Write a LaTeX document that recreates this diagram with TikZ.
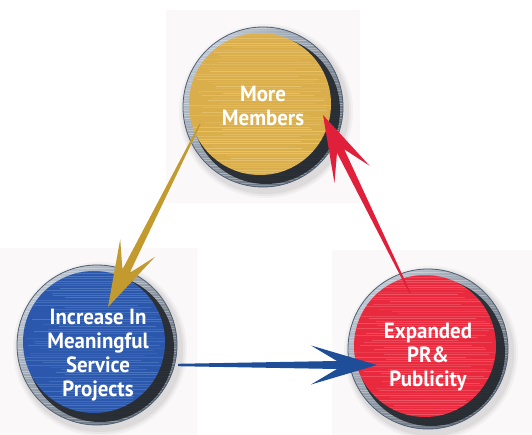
\documentclass[tikz,border=0pt]{standalone}
\usepackage{fontspec}
\setmainfont{PT Sans}[FakeStretch=0.95]
\usetikzlibrary{calc}

\definecolor{goldfill}{HTML}{DBAE4C}
\definecolor{goldlite}{HTML}{F2D68E}
\definecolor{goldarrow}{HTML}{C39A2E}
\definecolor{bluefill}{HTML}{2B58AC}
\definecolor{bluelite}{HTML}{6A92D6}
\definecolor{bluearrow}{HTML}{1D4E97}
\definecolor{redfill}{HTML}{E92A3E}
\definecolor{redlite}{HTML}{F87C88}
\definecolor{redarrow}{HTML}{E01F3B}
\definecolor{panel}{HTML}{FAF8F8}
\definecolor{rimlight}{HTML}{BCC6D2}
\definecolor{rimmid}{HTML}{5E6874}
\definecolor{rimdark}{HTML}{22262C}
\definecolor{rimedge}{HTML}{4F5F72}

\tikzset{
  backpanel/.style={fill=panel},
  disclabel/.style={text=white, align=center, font=\bfseries\fontsize{22}{24}\selectfont, inner sep=0pt},
}

% brushed disc with bevelled rim: #1 name, #2 x, #3 y, #4 fill, #5 streak colour
\newcommand\disc[5]{%
  \foreach \sh/\op in {7/0.03,5/0.04,3/0.05}{\fill[black,opacity=\op] (#2+3,#3+4) circle (80+\sh);}
  \shade[shading=axis, top color=rimlight, bottom color=rimmid, shading angle=45] (#2,#3) circle (80);
  \begin{scope}
    \clip (#2,#3) circle (80);
    \foreach \k in {-79,-76.5,...,79}{
      \pgfmathsetmacro\op{0.10+0.25*rnd}
      \draw[white, opacity=\op, line width=0.8pt] (#2-80,#3+\k) -- (#2+80,#3+\k);
    }
  \end{scope}
  \fill[rimdark, opacity=0.9] (#2+3,#3+3) circle (74);
  \fill[#4] (#2-3,#3-3) circle (71);
  \begin{scope}
    \clip (#2-3,#3-3) circle (71);
    \foreach \k in {-76,-73.6,...,70}{
      \pgfmathsetmacro\xa{#2-80+50*rnd}
      \pgfmathsetmacro\xb{#2+80-50*rnd}
      \pgfmathsetmacro\op{0.15+0.40*rnd}
      \draw[#5, opacity=\op, line width=0.9pt] (\xa,#3+\k) -- (\xb,#3+\k);
    }
  \end{scope}
  \draw[rimedge, line width=0.8pt] (#2,#3) circle (80);
  \node[circle, minimum size=160pt, inner sep=0pt] (#1) at (#2,#3) {};
}

% tapered arrow with swept head: #1 colour, #2 start, #3 tip, #4 half width at start
\newcommand\taper[4]{%
  \fill[#1] ($(#2)!#4!90:(#3)$)
    -- ($(#3)!40pt!(#2)!4pt!-90:(#2)$)
    -- ($(#3)!66pt!(#2)!19.5pt!-90:(#2)$)
    -- (#3)
    -- ($(#3)!66pt!(#2)!19.5pt!90:(#2)$)
    -- ($(#3)!40pt!(#2)!4pt!90:(#2)$)
    -- ($(#2)!#4!-90:(#3)$) -- cycle;
}

\begin{document}
\begin{tikzpicture}[x=1pt, y=-1pt]
  \pgfmathsetseed{7}
  \useasboundingbox (0,0) rectangle (532,435);
  \fill[white] (0,0) rectangle (532,435);

  % pale backing panels
  \fill[backpanel] (166,10) rectangle (360,203);
  \fill[backpanel] (0,248) rectangle (197,435);
  \fill[backpanel] (332,250) rectangle (532,435);

  % discs
  \disc{top}{263}{107}{goldfill}{goldlite}
  \disc{blue}{97}{345}{bluefill}{bluelite}
  \disc{red}{428}{349}{redfill}{redlite}

  % labels
  \node[disclabel] (ltop) at (263,106) {More\\Members};
  \node[disclabel] (lblue) at (98,355) {Increase In\\Meaningful\\Service\\Projects};
  \node[disclabel] (lred) at (428,357) {Expanded\\PR\&\\Publicity};

  % connector end points
  \coordinate (g0) at ($(top)+(-63,17)$);
  \coordinate (g1) at ($(blue)+(11,-38)$);
  \coordinate (b0) at ($(blue)+(81,20)$);
  \coordinate (b1) at ($(red)+(-51,16)$);
  \coordinate (r0) at ($(red)+(-18,-56)$);
  \coordinate (r1) at ($(top)+(60,8)$);

  % cycle arrows
  \taper{goldarrow}{g0}{g1}{0.7pt}
  \taper{bluearrow}{b0}{b1}{1.2pt}
  \taper{redarrow}{r0}{r1}{0.7pt}
\end{tikzpicture}
\end{document}
